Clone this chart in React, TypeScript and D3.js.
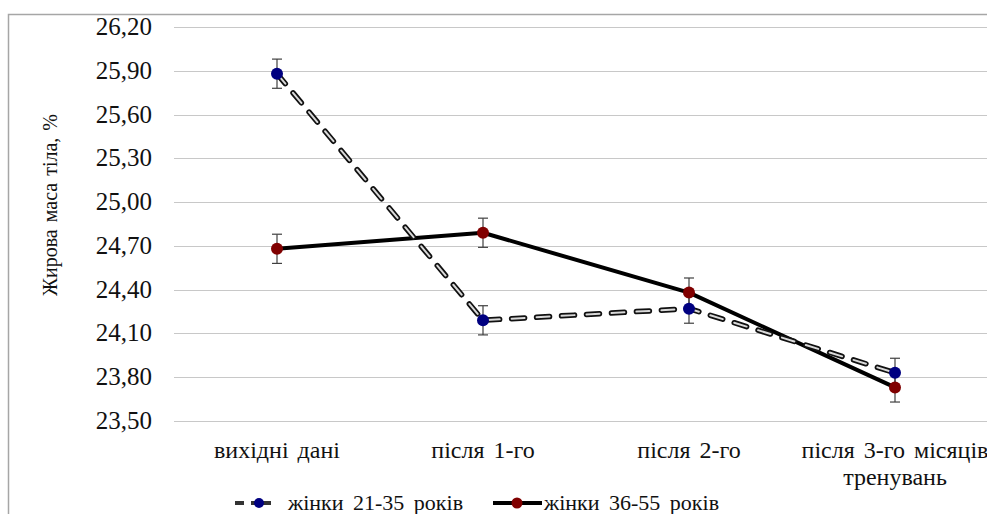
import React from "react";
import * as d3 from "d3";

// chart data
const categories = ["вихідні дані", "після 1-го", "після 2-го", "після 3-го місяців тренувань"];
const categoryLines = [["вихідні дані"], ["після 1-го"], ["після 2-го"], ["після 3-го місяців", "тренувань"]];
const young = [25.88, 24.19, 24.27, 23.83]; // жінки 21-35 років
const older = [24.68, 24.79, 24.38, 23.73]; // жінки 36-55 років
const youngErr = [0.1, 0.1, 0.1, 0.1];
const olderErr = [0.1, 0.1, 0.1, 0.1];
const yTicks = [23.5, 23.8, 24.1, 24.4, 24.7, 25.0, 25.3, 25.6, 25.9, 26.2];

const W = 987, H = 514;
const FONT = "Liberation Serif";

const x = d3.scaleBand().domain(categories).range([174, 998]);
const y = d3.scaleLinear().domain([23.5, 26.2]).range([421, 27]);
const cx = (i: number) => (x(categories[i]) as number) + x.bandwidth() / 2;
const line = d3.line<number>().x((_, i) => cx(i)).y((d) => y(d));

function ErrorBars({ vals, errs }: { vals: number[]; errs: number[] }) {
  return (
    <g stroke="#404040" strokeWidth={1.2}>
      {vals.map((v, i) => {
        const px = cx(i), top = y(v + errs[i]), bot = y(v - errs[i]);
        return (
          <g key={i}>
            <line x1={px} x2={px} y1={top} y2={bot} />
            <line x1={px - 5} x2={px + 5} y1={top} y2={top} />
            <line x1={px - 5} x2={px + 5} y1={bot} y2={bot} />
          </g>
        );
      })}
    </g>
  );
}

export default function App() {
  const txt = { fontFamily: FONT, fill: "#111" };
  return (
    <svg width={W} height={H} style={{ position: "absolute", left: 0, top: 0, background: "white" }}>
      {/* outer frame */}
      <rect x={8.5} y={14.5} width={1100} height={600} fill="white" stroke="#a6a6a6" strokeWidth={1.5} />

      {/* gridlines */}
      {yTicks.map((t) => (
        <line key={t} x1={174} x2={998} y1={Math.round(y(t)) + 0.5} y2={Math.round(y(t)) + 0.5}
          stroke="#c8c8c8" strokeWidth={1} />
      ))}

      {/* y tick labels */}
      {yTicks.map((t) => (
        <text key={"l" + t} x={152} y={y(t) + 8} textAnchor="end" style={{ ...txt, fontSize: 25 }}>
          {d3.format(".2f")(t).replace(".", ",")}
        </text>
      ))}

      {/* y axis title */}
      <text transform="translate(57,205) rotate(-90)" textAnchor="middle"
        style={{ ...txt, fontSize: 20, wordSpacing: 2 }}>
        Жирова маса тіла, %
      </text>

      {/* category labels */}
      {categoryLines.map((lines, i) => (
        <text key={i} textAnchor="middle" style={{ ...txt, fontSize: 24, wordSpacing: 3 }}>
          {lines.map((l, j) => (
            <tspan key={j} x={cx(i)} y={458 + j * 27}>{l}</tspan>
          ))}
        </text>
      ))}

      {/* solid line (36-55) */}
      <path d={line(older) || ""} fill="none" stroke="black" strokeWidth={4} strokeLinejoin="round" />

      {/* dashed line (21-35), outlined dashes */}
      <path d={line(young) || ""} fill="none" stroke="#111" strokeWidth={5.5}
        strokeDasharray="13,12" strokeLinecap="round" />
      <path d={line(young) || ""} fill="none" stroke="#d9d9d9" strokeWidth={2}
        strokeDasharray="13,12" strokeLinecap="round" />

      <ErrorBars vals={young} errs={youngErr} />
      <ErrorBars vals={older} errs={olderErr} />

      {young.map((v, i) => <circle key={"y" + i} cx={cx(i)} cy={y(v)} r={6} fill="#000080" />)}
      {older.map((v, i) => <circle key={"o" + i} cx={cx(i)} cy={y(v)} r={6} fill="#800000" />)}

      {/* legend */}
      <line x1={235} x2={244} y1={503} y2={503} stroke="#333" strokeWidth={4} />
      <line x1={251} x2={271} y1={503} y2={503} stroke="#333" strokeWidth={4} />
      <circle cx={259} cy={503} r={5} fill="#000080" />
      <text x={288} y={510} style={{ ...txt, fontSize: 22, wordSpacing: 4 }}>жінки 21-35 років</text>
      <line x1={493} x2={542} y1={503} y2={503} stroke="black" strokeWidth={4} />
      <circle cx={517} cy={503} r={5.5} fill="#800000" />
      <text x={544} y={510} style={{ ...txt, fontSize: 22, wordSpacing: 4 }}>жінки 36-55 років</text>
    </svg>
  );
}
